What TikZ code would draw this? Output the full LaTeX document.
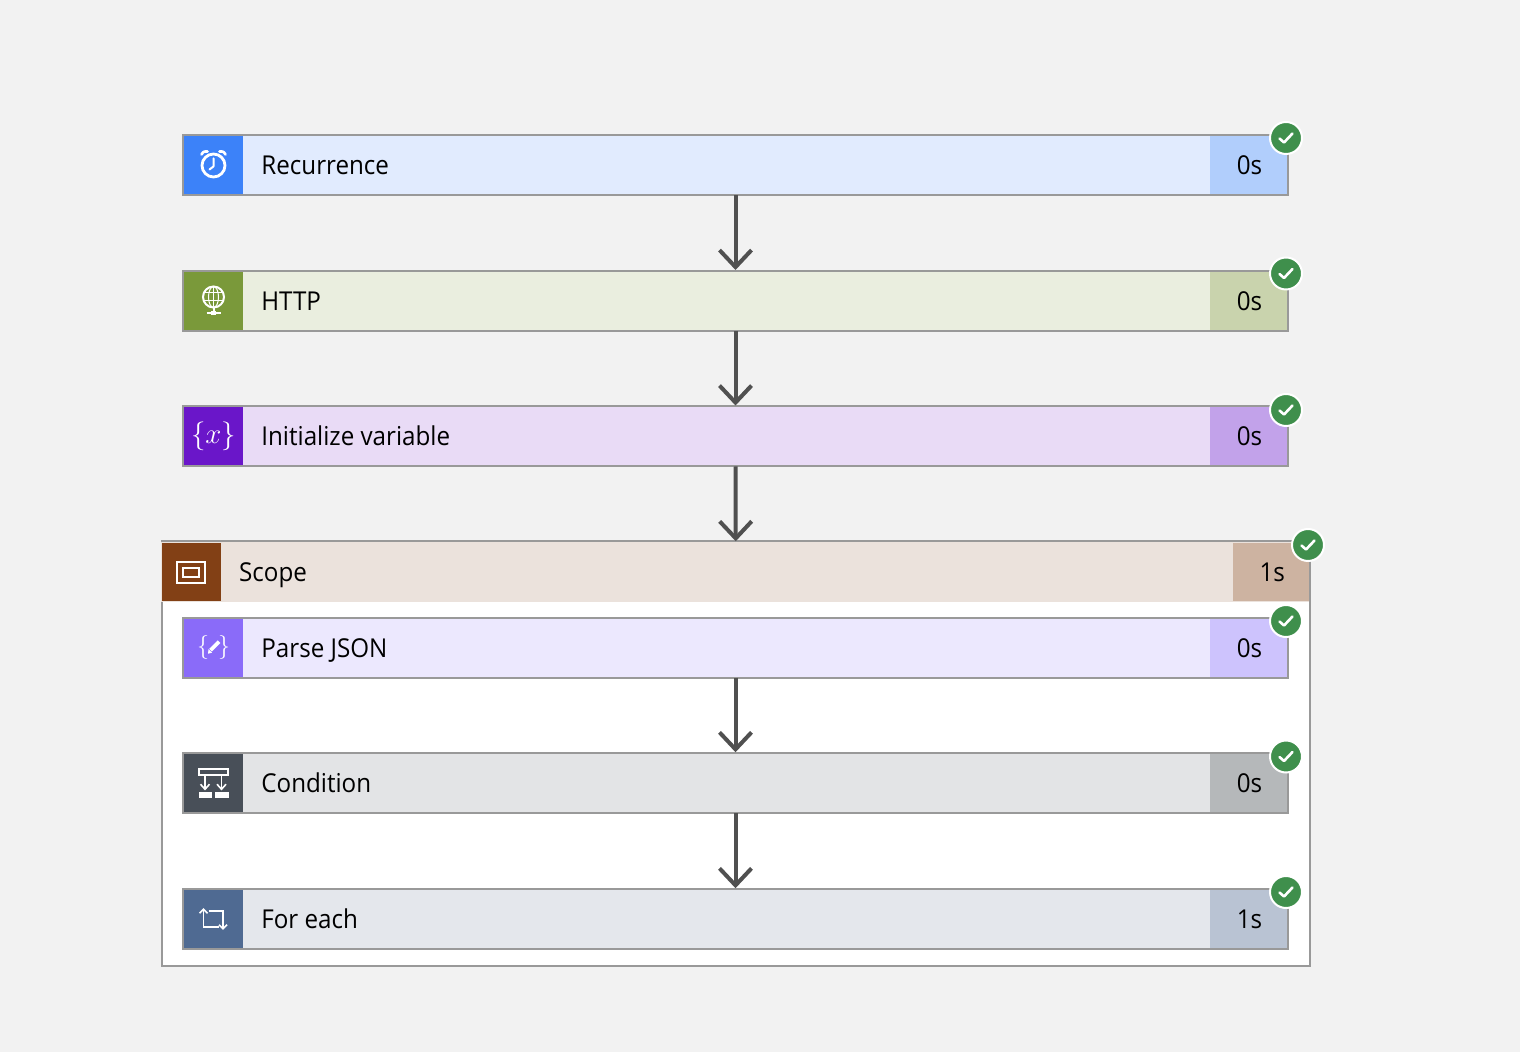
\documentclass[tikz,border=0pt]{standalone}
\usepackage{fontspec}
\setmainfont[FakeStretch=0.93]{Open Sans}
\usetikzlibrary{calc,positioning,arrows.meta}
\definecolor{pageBg}{HTML}{F2F2F2}
\definecolor{edgeGray}{HTML}{999999}
\definecolor{flowGray}{HTML}{505050}
\definecolor{okGreen}{HTML}{3F8F4C}
\definecolor{recIcon}{HTML}{3C82F9}\definecolor{recBg}{HTML}{E1EBFE}\definecolor{recTime}{HTML}{B1CEFC}
\definecolor{httpIcon}{HTML}{7A993A}\definecolor{httpBg}{HTML}{EAEEDF}\definecolor{httpTime}{HTML}{C9D3AD}
\definecolor{varIcon}{HTML}{6A16C9}\definecolor{varBg}{HTML}{E9DBF6}\definecolor{varTime}{HTML}{C2A2EA}
\definecolor{scoIcon}{HTML}{824015}\definecolor{scoBg}{HTML}{EBE2DC}\definecolor{scoTime}{HTML}{CDB3A1}
\definecolor{parIcon}{HTML}{8A6BF9}\definecolor{parBg}{HTML}{ECE8FE}\definecolor{parTime}{HTML}{CDC3FD}
\definecolor{conIcon}{HTML}{484F58}\definecolor{conBg}{HTML}{E3E4E6}\definecolor{conTime}{HTML}{B5B8BA}
\definecolor{forIcon}{HTML}{4F6A92}\definecolor{forBg}{HTML}{E4E7EC}\definecolor{forTime}{HTML}{B9C3D3}
\tikzset{
	rowbox/.style={line width=1pt,minimum height=30pt,inner sep=0pt,outer sep=0pt},
	iconbox/.style={minimum width=29.5pt,minimum height=29pt,inner sep=0pt,outer sep=0pt,anchor=west,xshift=0.5pt},
	timebox/.style={minimum width=38.5pt,minimum height=29pt,inner sep=0pt,outer sep=0pt,anchor=east,xshift=-0.5pt,font=\fontsize{13}{13}\selectfont},
	rowlabel/.style={inner sep=0pt,anchor=base west,font=\fontsize{13}{13}\selectfont},
	flow/.style={draw=flowGray,line width=2pt,shorten >=0.5pt,-{Straight Barb[length=8.5pt,width=16pt]}},
	glyph/.style={draw=white,line width=1pt},
	okring/.style={circle,fill=okGreen,draw=white,line width=1pt,minimum size=16pt,inner sep=0pt},
}
\begin{document}
\begin{tikzpicture}[x=0.5pt,y=-0.5pt]
	\useasboundingbox (0,0) rectangle (1520,1052);
	\fill[pageBg] (0,0) rectangle (1520,1052);
	% scope frame
	\coordinate (frameA) at (161.5,541.5);
	\coordinate (frameB) at (1310,966);
	\draw[fill=white,draw=edgeGray,line width=1pt] (frameA) rectangle (frameB);
	% rows
	\foreach \nm/\cx/\y/\rowwd/\rowline/\txt/\tm in {rec/735.5/165.5/552.5/edgeGray/Recurrence/0s,
		http/735.5/301/552.5/edgeGray/HTTP/0s,
		var/735.5/436.5/552.5/edgeGray/Initialize variable/0s,
		sco/735.75/572.25/575/none/Scope/1s,
		par/735.5/647.75/552.5/edgeGray/Parse JSON/0s,
		con/735.5/783.25/552.5/edgeGray/Condition/0s,
		for/735.5/919.25/552.5/edgeGray/For each/1s} {
		\node[rowbox,draw=\rowline,fill=\nm Bg,minimum width=\rowwd pt] (\nm) at (\cx,\y) {};
		\node[iconbox,fill=\nm Icon] (\nm Sq) at (\nm.west) {};
		\node[timebox,fill=\nm Time] (\nm Tm) at (\nm.east) {\hspace{1pt}\tm};
		\node[rowlabel] (\nm Lb) at ($(\nm Sq.east)+(18,9.5)$) {\txt};
	}
	% top and right of the frame again, over the header
	\draw[draw=edgeGray,line width=1pt] (frameA) -- (frameA -| frameB) -- (frameB);
	% connectors
	\draw[flow] (rec.south) -- (http.north);
	\draw[flow] (http.south) -- (var.north);
	\draw[flow] (var.south) -- (sco.north);
	\draw[flow] (par.south) -- (con.north);
	\draw[flow] (con.south) -- (for.north);
	% clock
	\begin{scope}[shift={(recSq.center)}]
		\draw[glyph,line width=1.4pt] (0,0) circle (11.5);
		\draw[glyph,line cap=round,line join=round] (0,-7) -- (0,1) -- (-4,4);
		\draw[glyph,line width=1.3pt,line cap=round] (-12,-11) .. controls (-10,-14) .. (-6,-14);
		\draw[glyph,line width=1.3pt,line cap=round] (12,-11) .. controls (10,-14) .. (6,-14);
	\end{scope}
	% globe
	\begin{scope}[shift={(httpSq.center)}]
		\draw[glyph] (0,-4) circle (10.5);
		\draw[glyph,line width=0.5pt] (0,-4) ellipse (5 and 10.5);
		\draw[glyph,line width=0.5pt] (0,-14.5) -- (0,6.5) (-9.5,-8) -- (9.5,-8) (-9.5,0) -- (9.5,0);
		\draw[glyph] (0,7) -- (0,12) (-7,12) -- (7,12);
		\fill[white] (-2.5,10) rectangle (2.5,14);
	\end{scope}
	% variable
	\node[text=white,font=\fontsize{15}{15}\selectfont] (varGlyph) at (varSq.center) {$\{x\}$};
	% scope
	\begin{scope}[shift={(scoSq.center)}]
		\draw[glyph] (-14,-10.5) rectangle (14,10.5);
		\draw[glyph] (-8,-4.5) rectangle (8,5);
	\end{scope}
	% parse
	\node[text=white,font=\fontsize{13}{13}\selectfont] (parGlyph) at (parSq.center) {$\{\hspace{4.5pt}\}$};
	\begin{scope}[shift={(parSq.center)}]
		\draw[glyph,line width=1.8pt] (-3,2.5) -- (5.5,-6);
		\fill[white] (-5.5,6) -- (-5,1.5) -- (-1.5,5) -- cycle;
	\end{scope}
	% condition
	\begin{scope}[shift={(conSq.center)}]
		\draw[glyph] (-14.5,-14) rectangle (14.5,-8);
		\draw[glyph,line width=0.8pt] (-8.5,-8) -- (-8.5,6) (8,-8) -- (8,6);
		\draw[glyph,line width=0.8pt] (-13,1) -- (-8.5,6) -- (-4,1);
		\draw[glyph,line width=0.8pt] (3.5,1) -- (8,6) -- (12.5,1);
		\fill[white] (-15,9) rectangle (-1.5,15);
		\fill[white] (1.5,9) rectangle (15,15);
	\end{scope}
	% loop
	\begin{scope}[shift={(forSq.center)}]
		\draw[glyph,line width=0.8pt] (-5,-8.5) -- (9.5,-8.5) -- (9.5,9.5);
		\draw[glyph,line width=0.8pt] (5,8) -- (-10,8) -- (-10,-10);
		\draw[glyph,line width=0.8pt] (-14,-6) -- (-10,-10) -- (-6,-6);
		\draw[glyph,line width=0.8pt] (5.5,5.5) -- (9.5,9.5) -- (13.5,5.5);
	\end{scope}
	% badges
	\foreach \nm/\bx/\by in {recOk/1286/138,httpOk/1286/273.5,varOk/1286/410,scoOk/1308/545,parOk/1286/621,conOk/1286/756.5,forOk/1286/892} {
		\node[okring] (\nm) at (\bx,\by) {};
		\draw[white,line width=1.3pt,line cap=round,line join=round] ($(\nm.center)+(-6.5,0.5)$) -- ($(\nm.center)+(-2,4.5)$) -- ($(\nm.center)+(6.5,-4.5)$);
	}
\end{tikzpicture}
\end{document}
